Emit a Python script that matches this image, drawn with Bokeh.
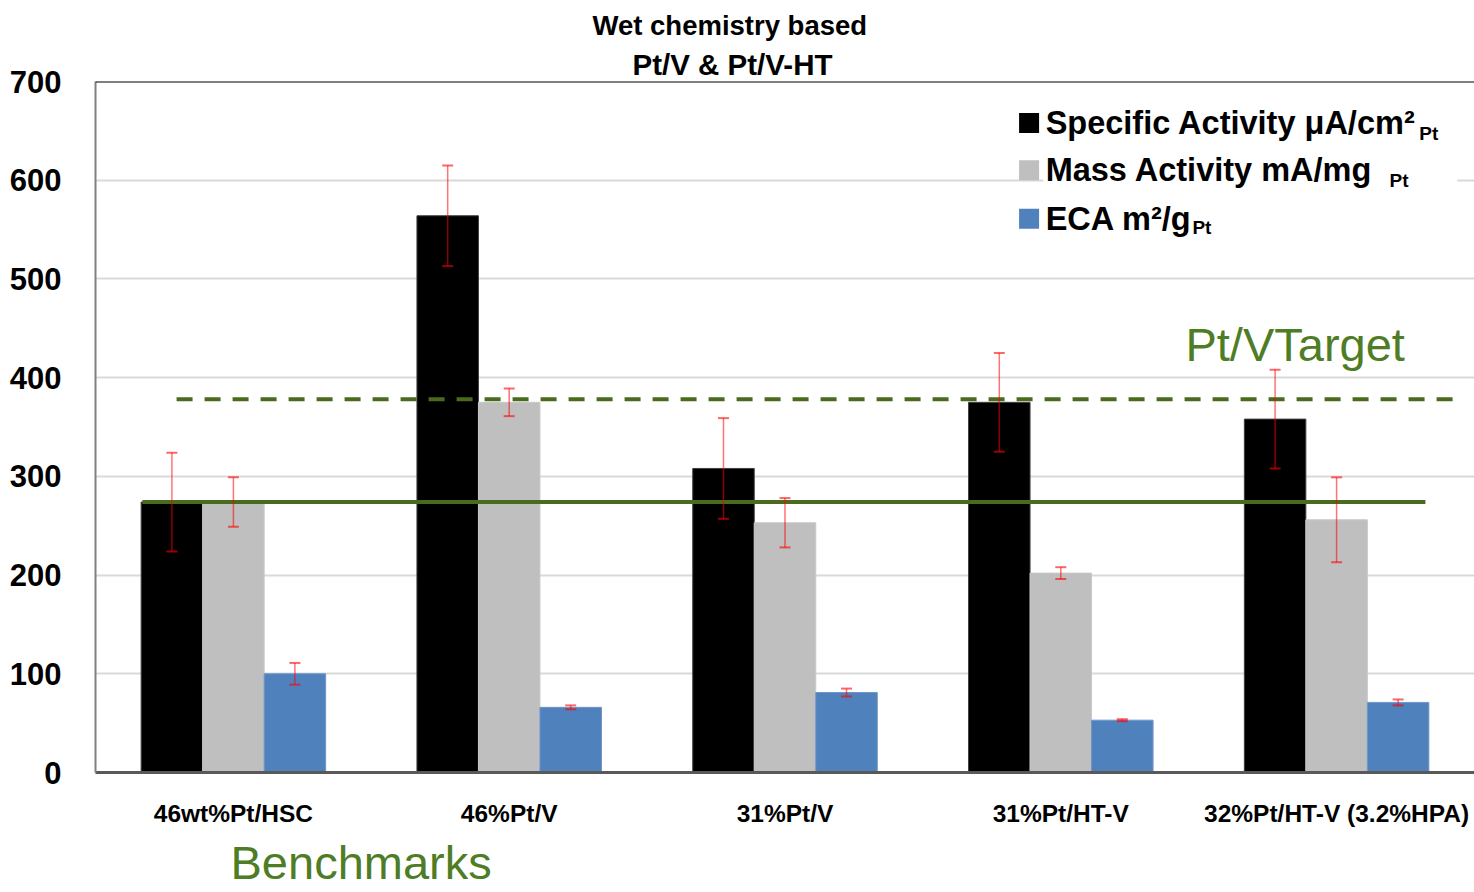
from bokeh.plotting import figure
from bokeh.models import (FactorRange, Range1d, ColumnDataSource, Whisker, TeeHead,
                          Label, Span, FixedTicker, Title)
from bokeh.transform import dodge
from bokeh.embed import file_html
from bokeh.resources import INLINE

# ---------------- data ----------------
categories = ["46wt%Pt/HSC", "46%Pt/V", "31%Pt/V", "31%Pt/HT-V", "32%Pt/HT-V (3.2%HPA)"]
specific_activity = [274, 564, 308, 375, 358]
specific_err = [50, 51, 51, 50, 50]
mass_activity = [274, 375, 253, 202, 256]
mass_err = [25, 14, 25, 6, 43]
eca = [100, 66, 81, 53, 71]
eca_err = [11, 2, 4, 1, 3]
benchmark_level = 274
target_level = 378
y_ticks = [0, 100, 200, 300, 400, 500, 600, 700]

# ---------------- style ----------------
SANS = "Liberation Sans"
GREEN_LINE = "#4a6b1d"
GREEN_TEXT = "#4e7d26"
COL_SA = "#000000"
COL_MA = "#bfbfbf"
COL_ECA = "#4f81bd"
BW = 0.223

src = ColumnDataSource(dict(
    cat=categories,
    sa=specific_activity, sa_up=[v + e for v, e in zip(specific_activity, specific_err)],
    sa_lo=[v - e for v, e in zip(specific_activity, specific_err)],
    ma=mass_activity, ma_up=[v + e for v, e in zip(mass_activity, mass_err)],
    ma_lo=[v - e for v, e in zip(mass_activity, mass_err)],
    eca=eca, eca_up=[v + e for v, e in zip(eca, eca_err)],
    eca_lo=[v - e for v, e in zip(eca, eca_err)],
))

p = figure(x_range=FactorRange(*categories), y_range=Range1d(0, 700),
           width=1474, height=892, output_backend="svg", toolbar_location=None,
           min_border_left=95, min_border_right=0, min_border_top=81, min_border_bottom=120)

p.outline_line_color = None
p.xgrid.grid_line_color = None
p.ygrid.grid_line_color = "#d9d9d9"
p.ygrid.grid_line_width = 2

p.yaxis.ticker = FixedTicker(ticks=y_ticks)
p.yaxis.axis_line_color = "#808080"
p.yaxis.axis_line_width = 2
p.yaxis.major_tick_line_color = None
p.yaxis.minor_tick_line_color = None
p.yaxis.major_label_text_font = SANS
p.yaxis.major_label_text_font_style = "bold"
p.yaxis.major_label_text_font_size = "31px"
p.yaxis.major_label_text_color = "black"
p.yaxis.major_label_standoff = 28

p.xaxis.axis_line_color = "#595959"
p.xaxis.axis_line_width = 3
p.xaxis.major_tick_line_color = None
p.xaxis.minor_tick_line_color = None
p.xaxis.major_label_text_font = SANS
p.xaxis.major_label_text_font_style = "bold"
p.xaxis.major_label_text_font_size = "24.5px"
p.xaxis.major_label_text_color = "black"
p.xaxis.major_label_standoff = 21

p.add_layout(Span(location=700, dimension="width", line_color="black", line_width=2))

# titles (two lines above, "Benchmarks" below)
p.add_layout(Title(text="Pt/V & Pt/V-HT", align="left", offset=537, standoff=1,
                   text_font=SANS, text_font_size="29.5px", text_font_style="bold",
                   text_color="black"), "above")
p.add_layout(Title(text="Wet chemistry based", align="left", offset=497, standoff=10,
                   text_font=SANS, text_font_size="27.5px", text_font_style="bold",
                   text_color="black"), "above")
p.add_layout(Title(text="Benchmarks", align="left", offset=135, standoff=8,
                   text_font=SANS, text_font_size="47px", text_font_style="normal",
                   text_color=GREEN_TEXT), "below")

# bars
p.vbar(x=dodge("cat", -BW, range=p.x_range), top="sa", width=BW, source=src,
       fill_color=COL_SA, line_color="#404040", line_width=1)
p.vbar(x=dodge("cat", 0, range=p.x_range), top="ma", width=BW, source=src,
       fill_color=COL_MA, line_color="#c8c8c8", line_width=1)
p.vbar(x=dodge("cat", BW, range=p.x_range), top="eca", width=BW, source=src,
       fill_color=COL_ECA, line_color="#6f95c8", line_width=1)

# error bars
for off, up, lo in [(-BW, "sa_up", "sa_lo"), (0, "ma_up", "ma_lo"), (BW, "eca_up", "eca_lo")]:
    w = Whisker(base=dodge("cat", off, range=p.x_range), upper=up, lower=lo, source=src,
                line_color="red", line_alpha=0.55, line_width=1.5, level="annotation",
                upper_head=TeeHead(size=11, line_color="red", line_alpha=0.6, line_width=2),
                lower_head=TeeHead(size=11, line_color="red", line_alpha=0.6, line_width=2))
    p.add_layout(w)

# benchmark and target lines
p.segment(x0=[0.170], x1=[4.822], y0=[benchmark_level], y1=[benchmark_level],
          line_color=GREEN_LINE, line_width=4)
p.segment(x0=[0.294], x1=[4.931], y0=[target_level], y1=[target_level],
          line_color=GREEN_LINE, line_width=4, line_dash="16 12")

# legend (manual)
p.quad(left=[3.437], right=[4.938], bottom=[560], top=[690], fill_color="white", line_color=None)
p.scatter(x=[3.385, 3.385, 3.385], y=[658, 610, 561], marker="square", size=20,
          fill_color=[COL_SA, COL_MA, COL_ECA], line_color=None)

def lab(x, y, text, size, style="bold", color="black", align="left", baseline="middle"):
    p.add_layout(Label(x=x, y=y, text=text, text_font=SANS, text_font_size=size,
                       text_font_style=style, text_color=color, text_align=align,
                       text_baseline=baseline))

lab(3.445, 658, "Specific Activity \u03bcA/cm\u00b2", "32.5px")
lab(4.869, 647, "Pt", "19px", align="right")
lab(3.445, 610, "Mass Activity mA/mg", "32.5px")
lab(4.761, 600, "Pt", "19px", align="right")
lab(3.445, 561, "ECA m\u00b2/g", "32.5px")
lab(4.046, 552, "Pt", "19px", align="right")

lab(3.952, 434, "Pt/VTarget", "47px", style="normal", color=GREEN_TEXT,
    baseline="alphabetic")

open("out.html", "w").write(file_html(p, INLINE))
